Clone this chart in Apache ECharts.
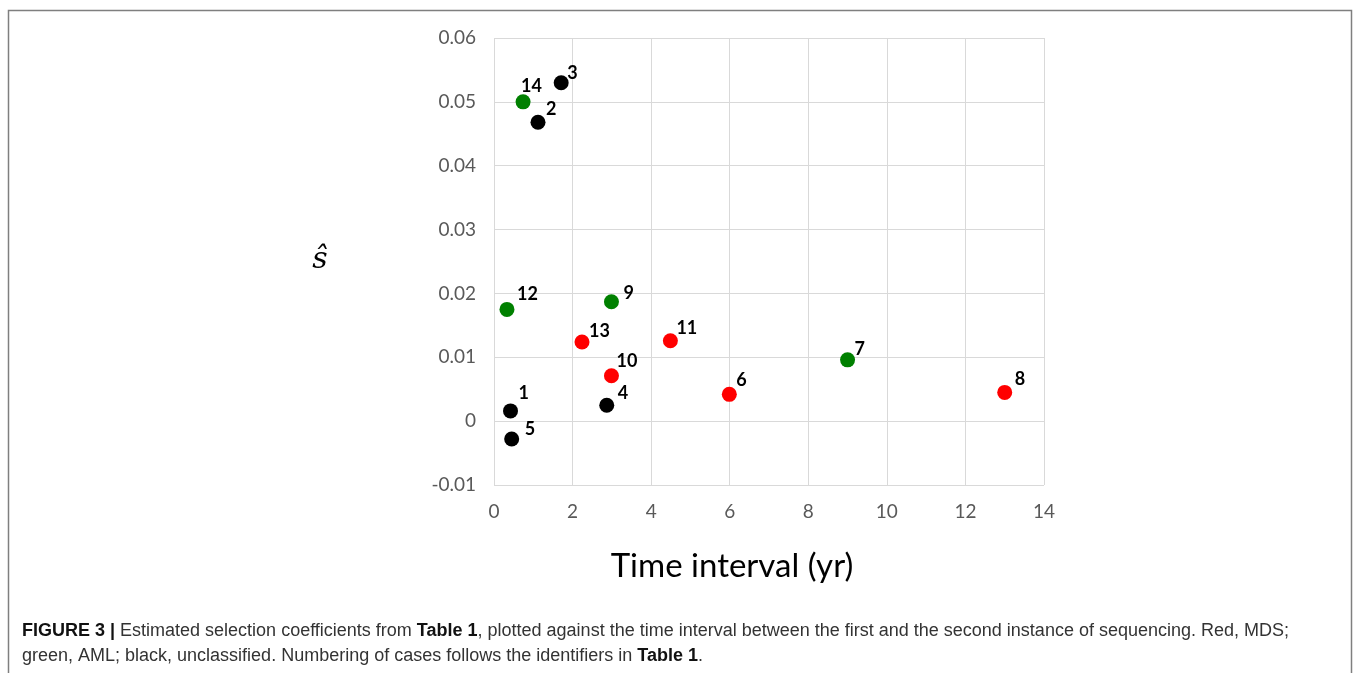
<!DOCTYPE html>
<html>
<head>
<meta charset="utf-8">
<script src="https://cdn.jsdelivr.net/npm/echarts@6/dist/echarts.min.js"></script>
<style>
html,body{margin:0;padding:0;background:#fff;}
#chart{width:1357px;height:673px;}
</style>
</head>
<body>
<div id="chart"></div>
<script>
// Case identifiers, time interval (yr), estimated selection coefficient, group
const mdsIds = ['6', '8', '10', '11', '13'];
const mdsX = [5.99, 13.0, 2.99, 4.49, 2.24];
const mdsY = [0.0042, 0.0045, 0.0071, 0.0126, 0.0124];

const amlIds = ['7', '9', '12', '14'];
const amlX = [9.0, 2.99, 0.33, 0.74];
const amlY = [0.0096, 0.0187, 0.0175, 0.0500];

const unclassIds = ['1', '2', '3', '4', '5'];
const unclassX = [0.42, 1.12, 1.71, 2.87, 0.45];
const unclassY = [0.0016, 0.0468, 0.0530, 0.0025, -0.0028];

const xTicks = [0, 2, 4, 6, 8, 10, 12, 14];
const yTicks = [-0.01, 0, 0.01, 0.02, 0.03, 0.04, 0.05, 0.06];

// Label placement (style): [left edge, vertical middle] relative to marker centre, in px
const labelNudge = {
  '1': [8, -18], '2': [8, -13], '3': [6, -10], '4': [11, -12], '5': [13, -10],
  '6': [7, -14], '7': [7, -11], '8': [10, -13], '9': [12, -9], '10': [5, -15],
  '11': [6, -12], '12': [10, -15], '13': [7, -11], '14': [-2, -16]
};
const SYM = 15;

function pts(ids, xs, ys) {
  return ids.map((id, i) => {
    const n = labelNudge[id] || [8, -13];
    return {
      value: [xs[i], ys[i]],
      name: id,
      label: { offset: [n[0] - SYM / 2, n[1]] }
    };
  });
}

function series(name, color, ids, xs, ys) {
  return {
    name: name,
    type: 'scatter',
    symbolSize: SYM,
    itemStyle: { color: color, opacity: 1 },
    label: {
      show: true,
      position: 'right',
      distance: 0,
      formatter: p => p.name,
      fontFamily: 'Lato',
      fontWeight: 'bold',
      fontSize: 18,
      color: '#000'
    },
    data: pts(ids, xs, ys)
  };
}

const chart = echarts.init(document.getElementById('chart'), null, { renderer: 'canvas' });
chart.setOption({
  animation: false,
  backgroundColor: '#fff',
  grid: { left: 494, top: 38, width: 550, height: 447, containLabel: false },
  xAxis: {
    type: 'value',
    min: 0, max: 14, interval: 2,
    axisLine: { show: false },
    axisTick: { show: false },
    splitLine: { show: true, lineStyle: { color: '#d9d9d9', width: 1 } },
    axisLabel: { fontFamily: 'Lato', fontSize: 19, color: '#595959', margin: 17,
      formatter: v => xTicks.includes(v) ? String(v) : '' }
  },
  yAxis: {
    type: 'value',
    min: -0.01, max: 0.06, interval: 0.01,
    axisLine: { show: false },
    axisTick: { show: false },
    splitLine: { show: true, lineStyle: { color: '#d9d9d9', width: 1 } },
    axisLabel: { fontFamily: 'Lato', fontSize: 19, color: '#595959', margin: 18,
      formatter: v => {
        const r = Math.round(v * 100) / 100;
        return yTicks.some(t => Math.abs(t - r) < 1e-9) ? String(r) : '';
      } }
  },
  series: [
    series('MDS', '#ff0000', mdsIds, mdsX, mdsY),
    series('AML', '#008000', amlIds, amlX, amlY),
    series('Unclassified', '#000000', unclassIds, unclassX, unclassY)
  ],
  graphic: [
    { type: 'rect', shape: { x: 8.5, y: 10.5, width: 1343, height: 700 },
      style: { fill: 'none', stroke: '#7f7f7f', lineWidth: 1.5 }, silent: true },
    { type: 'text', x: 732, y: 566,
      style: { text: 'Time interval (yr)', font: '33px Lato', fill: '#000',
        textAlign: 'center', textVerticalAlign: 'middle' } },
    { type: 'text', x: 320, y: 260,
      style: { text: 'ŝ', font: 'italic 30px "DejaVu Serif"', fill: '#000',
        textAlign: 'center', textVerticalAlign: 'middle' } },
    { type: 'text', x: 22, y: 631,
      style: {
        text: '{b|FIGURE 3 |} Estimated selection coefficients from {b|Table 1}, plotted against the time interval between the first and the second instance of sequencing. Red, MDS;',
        fontFamily: 'Liberation Sans', fontSize: 18, fill: '#333',
        textVerticalAlign: 'middle',
        rich: { b: { fontFamily: 'Liberation Sans', fontWeight: 'bold', fontSize: 18, fill: '#111' } }
      } },
    { type: 'text', x: 22, y: 656,
      style: {
        text: 'green, AML; black, unclassified. Numbering of cases follows the identifiers in {b|Table 1}.',
        fontFamily: 'Liberation Sans', fontSize: 18, fill: '#333',
        textVerticalAlign: 'middle',
        rich: { b: { fontFamily: 'Liberation Sans', fontWeight: 'bold', fontSize: 18, fill: '#111' } }
      } }
  ]
});
</script>
</body>
</html>
